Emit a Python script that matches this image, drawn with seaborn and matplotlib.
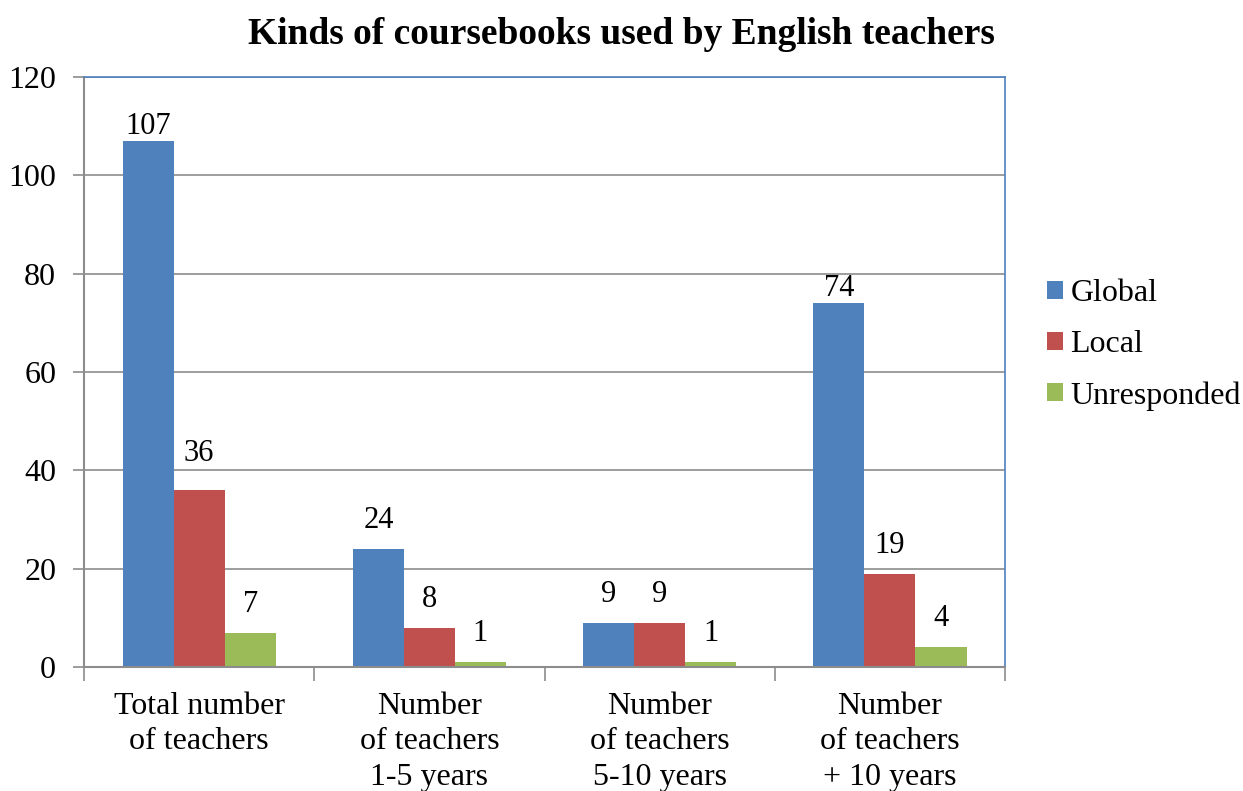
import pandas as pd
import matplotlib.pyplot as plt
import seaborn as sns
from matplotlib.ticker import FixedLocator

# dados do gráfico
grupos = ['Total number\nof teachers', 'Number\nof teachers\n1-5 years',
          'Number\nof teachers\n5-10 years', 'Number\nof teachers\n+ 10 years']
series = ['Global', 'Local', 'Unresponded']
global_vals = [107, 24, 9, 74]
local_vals = [36, 8, 9, 19]
unresp_vals = [7, 1, 1, 4]
cores = ['#4F81BD', '#C0504D', '#9BBB59']

# distancia (pt) entre o topo da barra e o rotulo, por serie
afastamento = [
    [0, 10, 10, 0],
    [16, 10, 10, 10],
    [10, 10, 10, 10],
]

df = pd.DataFrame({
    'Grupo': grupos * 3,
    'Tipo': [s for s in series for _ in grupos],
    'Valor': global_vals + local_vals + unresp_vals,
})

sns.set_style('white')
plt.rcParams['font.family'] = ['Liberation Serif', 'DejaVu Serif']
plt.rcParams['text.color'] = 'black'
plt.rcParams['xtick.color'] = 'black'
plt.rcParams['ytick.color'] = 'black'

fig = plt.figure(figsize=(12.43, 7.91), dpi=100)
ax = fig.add_axes([0.0676, 0.1568, 0.741, 0.746])

sns.barplot(data=df, x='Grupo', y='Valor', hue='Tipo', palette=cores,
            width=0.665, saturation=1, ax=ax, gap=0, linewidth=0, edgecolor='none')

for cont, pads in zip(ax.containers, afastamento):
    for barra, pad in zip(cont, pads):
        ax.annotate(f'{barra.get_height():.0f}',
                    (barra.get_x() + barra.get_width() / 2, barra.get_height()),
                    xytext=(0, pad), textcoords='offset points',
                    ha='center', va='bottom', fontsize=22)

ax.set_ylim(0, 120)
ax.set_xlim(-0.5, 3.5)
ax.set_yticks(range(0, 121, 20))
ax.yaxis.grid(True, color='#8C8C8C', linewidth=1.2)
ax.set_axisbelow(True)
ax.set_xlabel('')
ax.set_ylabel('')
ax.tick_params(axis='y', labelsize=23, length=8, width=1.2, color='#8C8C8C',
               labelcolor='black', left=True, pad=12)
ax.tick_params(axis='x', which='major', labelsize=23, length=0, pad=18, labelcolor='black')
for lbl in ax.get_xticklabels():
    lbl.set_linespacing(1.29)
ax.xaxis.set_minor_locator(FixedLocator([-0.5, 0.5, 1.5, 2.5, 3.5]))
ax.tick_params(axis='x', which='minor', length=10, width=1.2, color='#8C8C8C', bottom=True)

for lado in ['left', 'bottom']:
    ax.spines[lado].set_color('#8C8C8C')
    ax.spines[lado].set_linewidth(1.5)
for lado in ['top', 'right']:
    ax.spines[lado].set_color('#4F81BD')
    ax.spines[lado].set_linewidth(1.2)

ax.legend(loc='center left', bbox_to_anchor=(1.045, 0.546), frameon=False,
          fontsize=23, handlelength=0.5, handleheight=0.5, handletextpad=0.25,
          labelspacing=0.69, borderpad=0, borderaxespad=0)

fig.suptitle('Kinds of coursebooks used by English teachers', fontsize=27,
             fontweight='bold', x=0.5, y=0.979)

plt.savefig('out.png', dpi=100)
